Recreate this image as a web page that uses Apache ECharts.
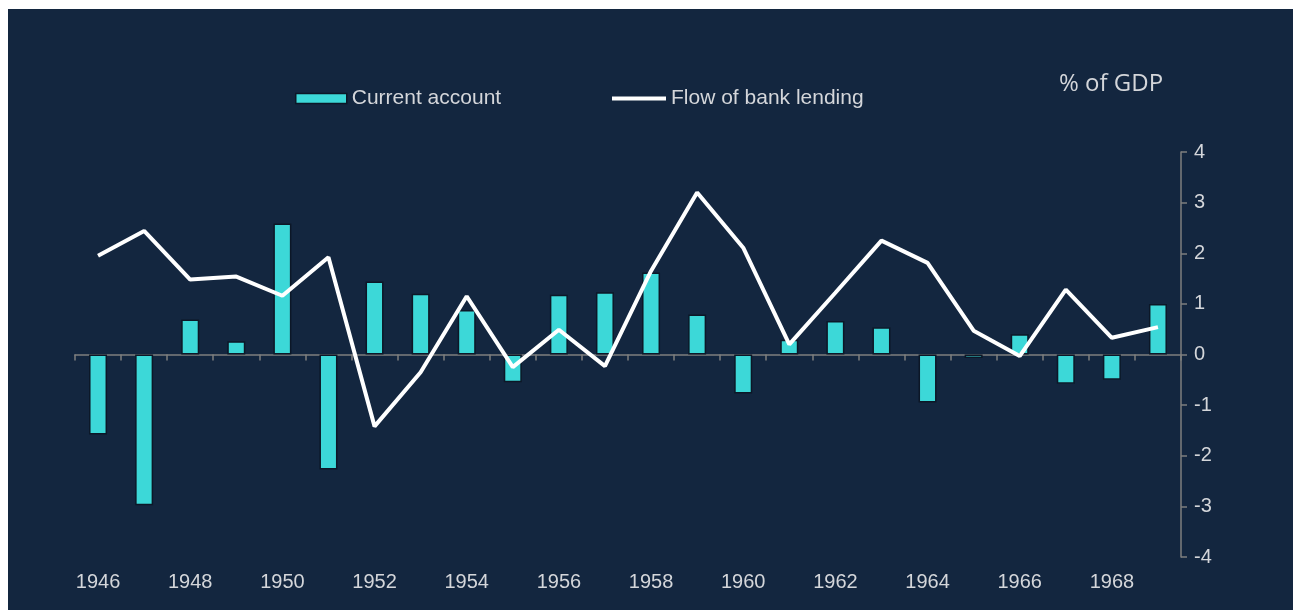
<!DOCTYPE html>
<html>
<head>
<meta charset="utf-8">
<script src="https://cdn.jsdelivr.net/npm/echarts@6/dist/echarts.min.js"></script>
<style>
  html, body { margin: 0; padding: 0; background: #ffffff; }
  #chart { position: absolute; left: 8px; top: 9px; width: 1285px; height: 601px; }
</style>
</head>
<body>
<div id="chart"></div>
<script>
// Years on the category axis
const years = ['1946','1947','1948','1949','1950','1951','1952','1953','1954','1955','1956','1957',
               '1958','1959','1960','1961','1962','1963','1964','1965','1966','1967','1968','1969'];

// Current account balance, % of GDP
const currentAccount = [-1.58, -2.98, 0.69, 0.26, 2.59, -2.27, 1.44, 1.20, 0.88, -0.55, 1.18, 1.23,
                        1.62, 0.79, -0.77, 0.29, 0.66, 0.54, -0.95, -0.07, 0.40, -0.58, -0.50, 1.00];

// Flow of bank lending, % of GDP
const bankLending = [1.95, 2.44, 1.48, 1.54, 1.16, 1.92, -1.42, -0.35, 1.15, -0.25, 0.49, -0.23,
                     1.65, 3.20, 2.11, 0.20, 1.22, 2.25, 1.81, 0.47, -0.03, 1.28, 0.33, 0.54];

// Value axis range and step
const yMin = -4, yMax = 4, yStep = 1;

const bg = '#13263f';
const turquoise = '#3cd8d8';
const outline = '#0c1727';
const axisGrey = '#7f7f7f';
const textGrey = '#d4d6da';
const sans = "'Liberation Sans', Arial, sans-serif";

const chart = echarts.init(document.getElementById('chart'));
chart.setOption({
  backgroundColor: bg,
  animation: false,
  textStyle: { fontFamily: sans },
  grid: { left: 67, right: 112, top: 143, bottom: 53, containLabel: false },
  legend: [
    {
      data: [{ name: 'Current account', icon: 'rect' }],
      left: 282, top: 74,
      itemWidth: 51, itemHeight: 10, itemGap: 6,
      textStyle: { color: textGrey, fontSize: 21, fontFamily: sans },
      itemStyle: { borderColor: outline, borderWidth: 1.5 }
    },
    {
      data: [{ name: 'Flow of bank lending', icon: 'rect' }],
      left: 599, top: 74,
      itemWidth: 54, itemHeight: 4, itemGap: 5,
      textStyle: { color: textGrey, fontSize: 21, fontFamily: sans },
      itemStyle: { color: '#ffffff' }
    }
  ],
  graphic: [
    {
      type: 'text',
      left: 1051, top: 63,
      style: { text: '% of GDP', fill: textGrey, fontSize: 24, fontFamily: "'Open Sans', sans-serif" }
    }
  ],
  xAxis: [
    {
      type: 'category',
      data: years,
      position: 'bottom',
      axisLine: { onZero: true, lineStyle: { color: axisGrey, width: 1.5 } },
      axisTick: { show: true, interval: 0, length: 6, lineStyle: { color: axisGrey, width: 1.5 } },
      axisLabel: { show: false },
      splitLine: { show: false }
    },
    {
      type: 'category',
      data: years,
      position: 'bottom',
      axisLine: { show: false, onZero: false },
      axisTick: { show: false },
      axisLabel: { show: true, interval: 1, margin: 15, color: textGrey, fontSize: 20, fontFamily: sans },
      splitLine: { show: false }
    }
  ],
  yAxis: {
    type: 'value',
    position: 'right',
    min: yMin, max: yMax, interval: yStep,
    axisLine: { show: true, lineStyle: { color: axisGrey, width: 1.5 } },
    axisTick: { show: true, length: 6, lineStyle: { color: axisGrey, width: 1.5 } },
    axisLabel: { margin: 13, color: textGrey, fontSize: 20, fontFamily: sans },
    splitLine: { show: false }
  },
  series: [
    {
      name: 'Current account',
      type: 'bar',
      xAxisIndex: 0,
      data: currentAccount,
      barWidth: 18,
      itemStyle: { color: turquoise, borderColor: outline, borderWidth: 1.5 }
    },
    {
      name: 'Flow of bank lending',
      type: 'line',
      xAxisIndex: 0,
      data: bankLending,
      symbol: 'none',
      lineStyle: { color: '#ffffff', width: 4 },
      itemStyle: { color: '#ffffff' },
      z: 3
    }
  ]
});
</script>
</body>
</html>
